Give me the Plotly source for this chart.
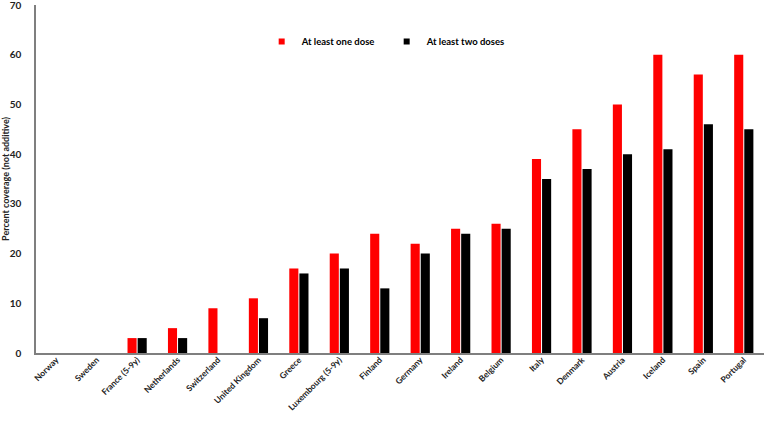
import plotly.graph_objects as go

countries = ["Norway", "Sweden", "France (5-9y)", "Netherlands", "Switzerland", "United Kingdom",
             "Greece", "Luxembourg (5-9y)", "Finland", "Germany", "Ireland", "Belgium", "Italy",
             "Denmark", "Austria", "Iceland", "Spain", "Portugal"]
one_dose = [0, 0, 3, 5, 9, 11, 17, 20, 24, 22, 25, 26, 39, 45, 50, 60, 56, 60]
two_doses = [0, 0, 3, 3, 0, 7, 16, 17, 13, 20, 24, 25, 35, 37, 40, 41, 46, 45]
y_ticks = [0, 10, 20, 30, 40, 50, 60, 70]
series_names = ["At least one dose", "At least two doses"]
series_colors = ["#FF0000", "#000000"]

FONT = "Lato"

fig = go.Figure()
for name, vals, col in zip(series_names, [one_dose, two_doses], series_colors):
    fig.add_trace(go.Bar(x=countries, y=vals, name=name, showlegend=False, legendgroup=name,
                         marker=dict(color=col, line=dict(width=0))))
# legend entries with small square symbols
for name, col in zip(series_names, series_colors):
    fig.add_trace(go.Scatter(x=[None], y=[None], mode="markers", name=name, legendgroup=name,
                             marker=dict(symbol="square", size=6, color=col)))

fig.update_layout(
    width=767, height=423,
    margin=dict(l=36, r=3, t=5, b=70),
    paper_bgcolor="white", plot_bgcolor="white",
    barmode="group", bargap=0.5, bargroupgap=0.1,
    font=dict(family=FONT, size=9, color="#222222"),
    showlegend=True,
    legend=dict(orientation="h", x=0.31, y=0.895, xanchor="left", yanchor="middle",
                font=dict(family=FONT, size=9.5, color="#000000", weight="bold"),
                entrywidth=80, itemwidth=30, bgcolor="rgba(0,0,0,0)"),
)
fig.update_xaxes(
    tickangle=-45, showline=True, linecolor="#7f7f7f", linewidth=1.5,
    ticks="", tickfont=dict(family=FONT, size=8.5, color="#222222", weight="bold"),
    ticklabelstandoff=-3, automargin=False,
    showgrid=False,
)
fig.update_yaxes(
    range=[0, 70], tickvals=y_ticks, showline=True, linecolor="#7f7f7f", linewidth=1.5,
    ticks="", showgrid=False, zeroline=False, ticklabeloverflow="allow", automargin=False,
    tickfont=dict(family=FONT, size=10, color="#222222", weight="bold"),
    ticklabelstandoff=11,
    title=dict(text="Percent coverage (not additive)", standoff=6,
               font=dict(family=FONT, size=9, color="#222222", weight="bold")),
)

fig.write_html("out.html", config={"displayModeBar": False},
               post_script="document.body.style.margin='0';")
